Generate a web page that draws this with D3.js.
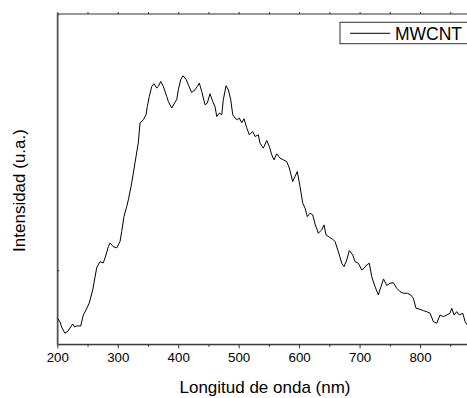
<!DOCTYPE html>
<html>
<head>
<meta charset="utf-8">
<script src="https://cdn.jsdelivr.net/npm/d3@7"></script>
<style>
  html, body { margin: 0; padding: 0; background: #fff; }
  svg { display: block; font-family: "Liberation Sans", Arial, sans-serif; }
</style>
</head>
<body>
<svg id="chart" width="467" height="398"></svg>
<script>
// Data (wavelength in nm, intensity in arbitrary units)
const wavelength = [200,204.5,207.8,212.7,217.7,225.5,228.5,232.1,238.7,243,247.5,252.9,258.6,265.2,270.6,276.1,280.6,284.4,287.2,292.6,298.3,303.7,306.5,310.3,314.8,317.5,323.1,328.5,334,336.8,342.3,346.7,348.9,352.2,356.2,360,364.4,367.1,371.1,375.4,381,383.6,389.3,394.7,397.5,400.2,404.1,407.9,413.4,417,422.3,427.8,431.6,434.9,438.9,444.3,448.1,452.6,457.1,460.9,463.7,468,472,474.6,479.1,482.9,486.9,490.2,494,497.8,501.1,505.1,508.9,513.3,517.6,523.3,527.1,532.5,535.3,540.8,546.4,550.7,554.7,558.5,562.9,568.4,573.9,579.5,583.8,589.4,593.2,597,601.5,606,609.8,613.6,618,622.5,626.3,631.8,637.4,641.2,644.5,650,655.6,659.4,664.9,670.5,674.3,678.8,683,688.7,692.5,697.9,703.6,707.4,711.8,716.1,720.1,725.6,731,735,739.6,744.9,750.4,755.8,761.5,766.9,772.4,779,784.6,788.9,793.4,800,805.5,811.1,816.6,822,827.6,833.1,838.6,844.2,849.6,852.5,856.3,860.7,865,870.7,874.5,878.3];
const intensity = [26.3,22.3,16.3,11,13.3,20.3,17.3,18.3,18.3,29.3,34.3,41.3,54.3,76.6,82.6,81.3,89.3,97.6,101.3,97.6,96.3,102.6,112.6,127.6,137.6,144.3,161.3,181.3,201.3,221.3,224.3,229.3,237.6,247.6,257.6,260.3,256,257.6,262.6,257.6,247.6,242.6,236,241.8,244.3,254.3,264.3,268.3,264.3,258.8,251.6,254.3,257.6,261,252.6,239.3,241,250.3,242.6,237.6,227.6,231,229.3,244.3,258.3,254.3,244.3,229.3,226,224.3,226,221.3,225.3,216.3,209.3,212.6,207.6,209.3,201,196,203.6,197.6,189.3,184.3,190.3,186,184.3,182.6,176,162.6,167.6,172.6,157.6,141,136,127.6,131,129.3,120.3,111,114.3,119.3,109.3,107,105,102.6,92.6,81,77.6,84.3,93.6,89.3,82.6,81,74.3,76,79.3,81,67.6,57.6,49.3,57,65.3,58.8,61,61.6,56,52.6,51,51,49.3,46,36,35,33.6,32.6,31,22.6,21,29.3,27.6,29.3,31,36,29.3,32.6,29.3,31,22.6,19.3];
const xTicks = [200,300,400,500,600,700,800];
const xMinorTicks = [250,350,450,550,650,750,850];
const yTicks = [74];
const seriesName = "MWCNT";
const xTitle = "Longitud de onda (nm)";
const yTitle = "Intensidad (u.a.)";

const svg = d3.select("#chart");
const m = {left: 57.3, right: 468.4, top: 14, bottom: 344.3};

const x = d3.scaleLinear().domain([200, 880]).range([m.left, m.right]);
const y = d3.scaleLinear().domain([0, 330]).range([m.bottom, m.top]);

const frameColor = "#333";

// Frame
svg.append("rect")
  .attr("x", m.left).attr("y", m.top)
  .attr("width", m.right - m.left).attr("height", m.bottom - m.top)
  .attr("fill", "none").attr("stroke", frameColor).attr("stroke-width", 1);

// Bottom axis
const xAxis = d3.axisBottom(x).tickValues(xTicks).tickSize(4).tickSizeOuter(0).tickPadding(4)
  .tickFormat(d3.format("d"));
const gx = svg.append("g").attr("transform", `translate(0,${m.bottom})`).call(xAxis);
gx.select(".domain").attr("stroke", frameColor);
gx.selectAll(".tick line").attr("stroke", frameColor);
gx.selectAll("text").attr("font-size", "13.3px").attr("fill", "#000")
  .attr("font-family", "Liberation Sans, Arial, sans-serif");

const xMinor = d3.axisBottom(x).tickValues(xMinorTicks).tickSize(2.5).tickFormat("");
const gxm = svg.append("g").attr("transform", `translate(0,${m.bottom})`).call(xMinor);
gxm.select(".domain").remove();
gxm.selectAll(".tick line").attr("stroke", frameColor);

// Top axis ticks (mirrored)
const xTop = d3.axisTop(x).tickValues(xTicks.concat(xMinorTicks)).tickSize(2).tickFormat("");
const gxt = svg.append("g").attr("transform", `translate(0,${m.top})`).call(xTop);
gxt.select(".domain").remove();
gxt.selectAll(".tick line").attr("stroke", frameColor);

// Left axis ticks (no labels)
const yAxis = d3.axisLeft(y).tickValues(yTicks).tickSize(-2).tickFormat("");
const gy = svg.append("g").attr("transform", `translate(${m.left},0)`).call(yAxis);
gy.select(".domain").attr("stroke", "#555").attr("stroke-width", 1.5);
gy.selectAll(".tick line").attr("stroke", frameColor);

// Line
const pts = wavelength.map((w, i) => [w, intensity[i]]);
const line = d3.line().x(d => x(d[0])).y(d => y(d[1]));
svg.append("path").datum(pts)
  .attr("d", line).attr("fill", "none").attr("stroke", "#000")
  .attr("stroke-width", 1).attr("stroke-linejoin", "round");

// Titles
svg.append("text")
  .attr("x", 265).attr("y", 393)
  .attr("text-anchor", "middle").attr("font-size", "17px").attr("fill", "#000")
  .text(xTitle);
svg.append("text")
  .attr("transform", `translate(25,${190.5}) rotate(-90)`)
  .attr("text-anchor", "middle").attr("font-size", "17px").attr("fill", "#000")
  .text(yTitle);

// Legend
const lg = svg.append("g");
lg.append("rect").attr("x", 340).attr("y", 22.3).attr("width", 140).attr("height", 21.4)
  .attr("fill", "#fff").attr("stroke", frameColor).attr("stroke-width", 1);
lg.append("line").attr("x1", 350).attr("x2", 390).attr("y1", 33.3).attr("y2", 33.3)
  .attr("stroke", "#000").attr("stroke-width", 1);
lg.append("text").attr("x", 395).attr("y", 40).attr("font-size", "17.5px").attr("fill", "#000")
  .text(seriesName);
</script>
</body>
</html>
